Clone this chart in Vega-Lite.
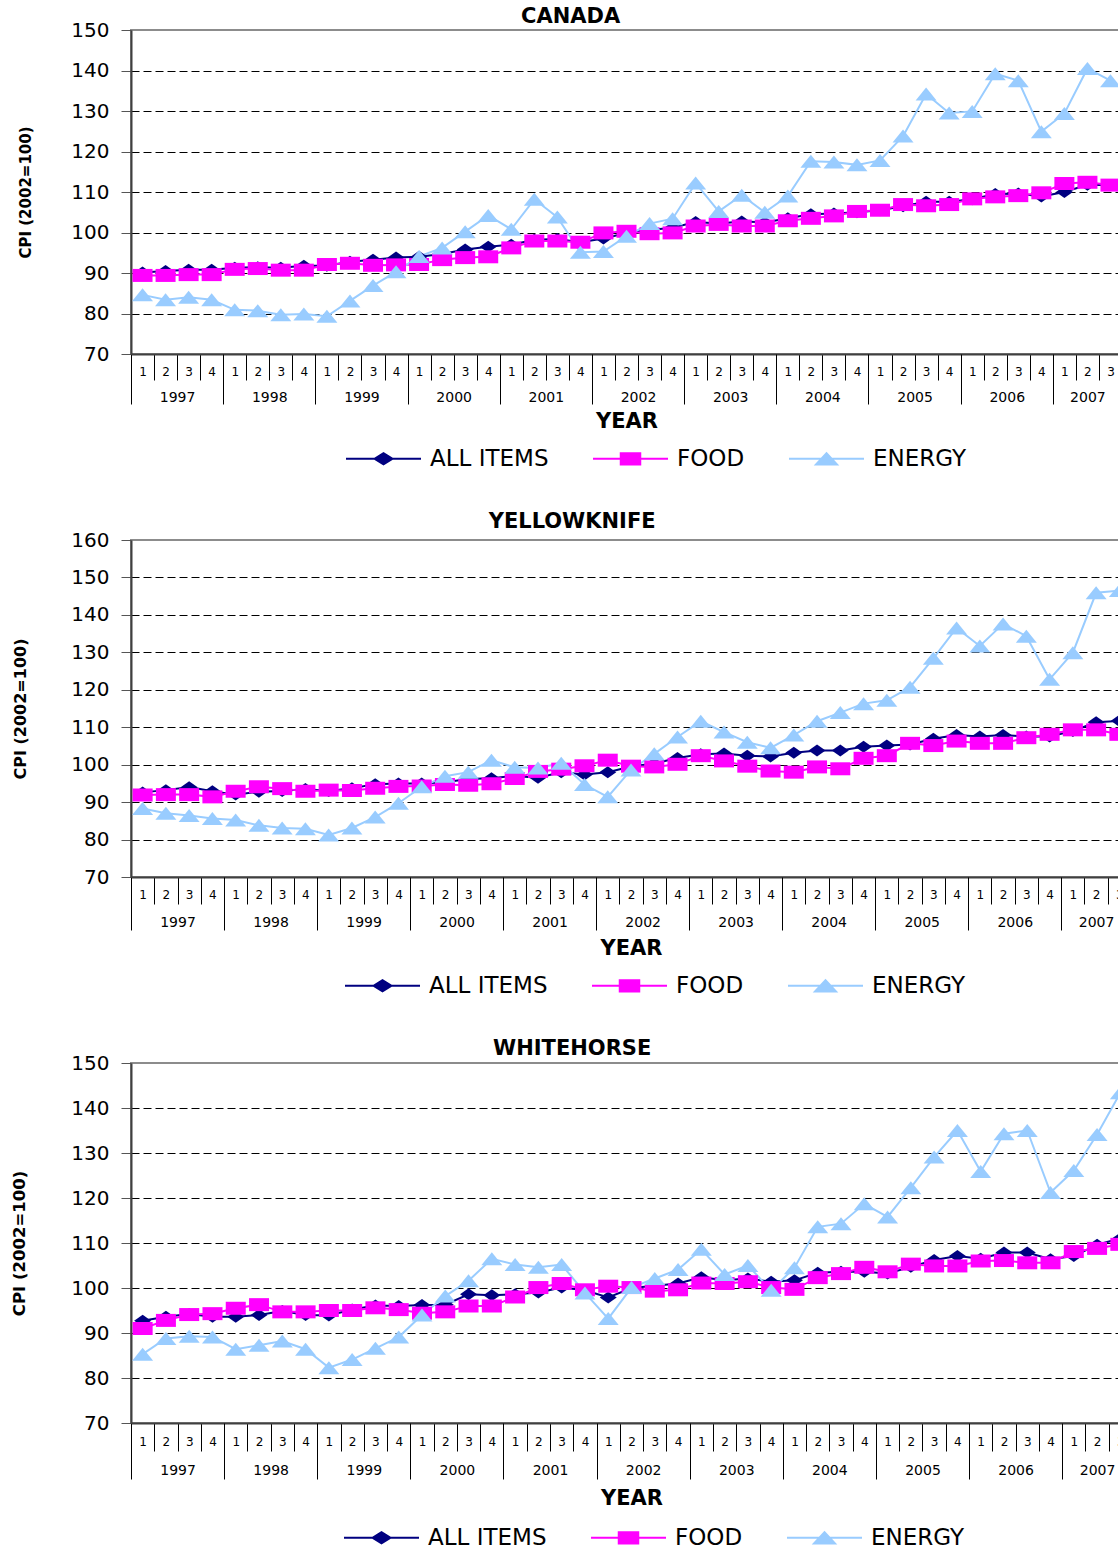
{
  "$schema": "https://vega.github.io/schema/vega-lite/v6.json",
  "padding": {"left": 10, "top": 5, "right": 0, "bottom": 0},
  "background": "white",
  "config": {
    "view": {"stroke": "#8c8c8c", "strokeWidth": 2},
    "axis": {"labelFont": "DejaVu Sans", "titleFont": "DejaVu Sans", "labelColor": "#000", "titleColor": "#000", "tickColor": "#000", "tickWidth": 1, "domainColor": "#404040", "domainWidth": 2, "labelFlush": false, "labelOverlap": false, "grid": false},
    "title": {"font": "DejaVu Sans", "fontSize": 21, "fontWeight": "bold", "color": "#000", "frame": "bounds", "anchor": "middle"},
    "legend": {"labelFont": "DejaVu Sans", "labelFontSize": 23, "labelColor": "#000", "labelOffset": 8, "columnPadding": 40, "padding": 0, "symbolSize": 5625, "symbolStrokeWidth": 2, "symbolOpacity": 1, "direction": "horizontal", "orient": "none", "labelLimit": 300}
  },
  "datasets": {
    "canada": [
      {"year":1997,"quarter":1,"series":"ALL ITEMS","value":90.1},{"year":1997,"quarter":2,"series":"ALL ITEMS","value":90.5},{"year":1997,"quarter":3,"series":"ALL ITEMS","value":90.8},{"year":1997,"quarter":4,"series":"ALL ITEMS","value":90.8},
      {"year":1998,"quarter":1,"series":"ALL ITEMS","value":91.3},{"year":1998,"quarter":2,"series":"ALL ITEMS","value":91.4},{"year":1998,"quarter":3,"series":"ALL ITEMS","value":91.3},{"year":1998,"quarter":4,"series":"ALL ITEMS","value":91.8},
      {"year":1999,"quarter":1,"series":"ALL ITEMS","value":91.8},{"year":1999,"quarter":2,"series":"ALL ITEMS","value":92.8},{"year":1999,"quarter":3,"series":"ALL ITEMS","value":93.3},{"year":1999,"quarter":4,"series":"ALL ITEMS","value":93.8},
      {"year":2000,"quarter":1,"series":"ALL ITEMS","value":94.0},{"year":2000,"quarter":2,"series":"ALL ITEMS","value":94.7},{"year":2000,"quarter":3,"series":"ALL ITEMS","value":95.8},{"year":2000,"quarter":4,"series":"ALL ITEMS","value":96.5},
      {"year":2001,"quarter":1,"series":"ALL ITEMS","value":97.0},{"year":2001,"quarter":2,"series":"ALL ITEMS","value":98.2},{"year":2001,"quarter":3,"series":"ALL ITEMS","value":98.4},{"year":2001,"quarter":4,"series":"ALL ITEMS","value":97.6},
      {"year":2002,"quarter":1,"series":"ALL ITEMS","value":98.5},{"year":2002,"quarter":2,"series":"ALL ITEMS","value":99.9},{"year":2002,"quarter":3,"series":"ALL ITEMS","value":100.6},{"year":2002,"quarter":4,"series":"ALL ITEMS","value":101.2},
      {"year":2003,"quarter":1,"series":"ALL ITEMS","value":102.6},{"year":2003,"quarter":2,"series":"ALL ITEMS","value":102.2},{"year":2003,"quarter":3,"series":"ALL ITEMS","value":102.7},{"year":2003,"quarter":4,"series":"ALL ITEMS","value":102.5},
      {"year":2004,"quarter":1,"series":"ALL ITEMS","value":103.5},{"year":2004,"quarter":2,"series":"ALL ITEMS","value":104.5},{"year":2004,"quarter":3,"series":"ALL ITEMS","value":104.7},{"year":2004,"quarter":4,"series":"ALL ITEMS","value":105.0},
      {"year":2005,"quarter":1,"series":"ALL ITEMS","value":105.5},{"year":2005,"quarter":2,"series":"ALL ITEMS","value":106.5},{"year":2005,"quarter":3,"series":"ALL ITEMS","value":107.6},{"year":2005,"quarter":4,"series":"ALL ITEMS","value":107.6},
      {"year":2006,"quarter":1,"series":"ALL ITEMS","value":108.2},{"year":2006,"quarter":2,"series":"ALL ITEMS","value":109.5},{"year":2006,"quarter":3,"series":"ALL ITEMS","value":109.6},{"year":2006,"quarter":4,"series":"ALL ITEMS","value":108.9},
      {"year":2007,"quarter":1,"series":"ALL ITEMS","value":110.0},{"year":2007,"quarter":2,"series":"ALL ITEMS","value":111.8},{"year":2007,"quarter":3,"series":"ALL ITEMS","value":111.7},
      {"year":1997,"quarter":1,"series":"FOOD","value":89.4},{"year":1997,"quarter":2,"series":"FOOD","value":89.4},{"year":1997,"quarter":3,"series":"FOOD","value":89.6},{"year":1997,"quarter":4,"series":"FOOD","value":89.6},
      {"year":1998,"quarter":1,"series":"FOOD","value":90.9},{"year":1998,"quarter":2,"series":"FOOD","value":91.1},{"year":1998,"quarter":3,"series":"FOOD","value":90.7},{"year":1998,"quarter":4,"series":"FOOD","value":90.7},
      {"year":1999,"quarter":1,"series":"FOOD","value":92.1},{"year":1999,"quarter":2,"series":"FOOD","value":92.4},{"year":1999,"quarter":3,"series":"FOOD","value":91.9},{"year":1999,"quarter":4,"series":"FOOD","value":92.0},
      {"year":2000,"quarter":1,"series":"FOOD","value":92.1},{"year":2000,"quarter":2,"series":"FOOD","value":93.3},{"year":2000,"quarter":3,"series":"FOOD","value":93.8},{"year":2000,"quarter":4,"series":"FOOD","value":94.0},
      {"year":2001,"quarter":1,"series":"FOOD","value":96.2},{"year":2001,"quarter":2,"series":"FOOD","value":97.9},{"year":2001,"quarter":3,"series":"FOOD","value":97.9},{"year":2001,"quarter":4,"series":"FOOD","value":97.6},
      {"year":2002,"quarter":1,"series":"FOOD","value":99.9},{"year":2002,"quarter":2,"series":"FOOD","value":100.3},{"year":2002,"quarter":3,"series":"FOOD","value":99.7},{"year":2002,"quarter":4,"series":"FOOD","value":99.9},
      {"year":2003,"quarter":1,"series":"FOOD","value":101.6},{"year":2003,"quarter":2,"series":"FOOD","value":102.0},{"year":2003,"quarter":3,"series":"FOOD","value":101.6},{"year":2003,"quarter":4,"series":"FOOD","value":101.6},
      {"year":2004,"quarter":1,"series":"FOOD","value":102.9},{"year":2004,"quarter":2,"series":"FOOD","value":103.5},{"year":2004,"quarter":3,"series":"FOOD","value":104.1},{"year":2004,"quarter":4,"series":"FOOD","value":105.2},
      {"year":2005,"quarter":1,"series":"FOOD","value":105.5},{"year":2005,"quarter":2,"series":"FOOD","value":106.9},{"year":2005,"quarter":3,"series":"FOOD","value":106.6},{"year":2005,"quarter":4,"series":"FOOD","value":106.9},
      {"year":2006,"quarter":1,"series":"FOOD","value":108.3},{"year":2006,"quarter":2,"series":"FOOD","value":108.8},{"year":2006,"quarter":3,"series":"FOOD","value":109.1},{"year":2006,"quarter":4,"series":"FOOD","value":109.8},
      {"year":2007,"quarter":1,"series":"FOOD","value":112.1},{"year":2007,"quarter":2,"series":"FOOD","value":112.4},{"year":2007,"quarter":3,"series":"FOOD","value":111.7},
      {"year":1997,"quarter":1,"series":"ENERGY","value":84.6},{"year":1997,"quarter":2,"series":"ENERGY","value":83.4},{"year":1997,"quarter":3,"series":"ENERGY","value":84.0},{"year":1997,"quarter":4,"series":"ENERGY","value":83.4},
      {"year":1998,"quarter":1,"series":"ENERGY","value":80.9},{"year":1998,"quarter":2,"series":"ENERGY","value":80.7},{"year":1998,"quarter":3,"series":"ENERGY","value":79.7},{"year":1998,"quarter":4,"series":"ENERGY","value":79.9},
      {"year":1999,"quarter":1,"series":"ENERGY","value":79.3},{"year":1999,"quarter":2,"series":"ENERGY","value":83.1},{"year":1999,"quarter":3,"series":"ENERGY","value":86.9},{"year":1999,"quarter":4,"series":"ENERGY","value":90.3},
      {"year":2000,"quarter":1,"series":"ENERGY","value":94.1},{"year":2000,"quarter":2,"series":"ENERGY","value":96.2},{"year":2000,"quarter":3,"series":"ENERGY","value":100.2},{"year":2000,"quarter":4,"series":"ENERGY","value":104.2},
      {"year":2001,"quarter":1,"series":"ENERGY","value":100.8},{"year":2001,"quarter":2,"series":"ENERGY","value":108.2},{"year":2001,"quarter":3,"series":"ENERGY","value":103.8},{"year":2001,"quarter":4,"series":"ENERGY","value":95.1},
      {"year":2002,"quarter":1,"series":"ENERGY","value":95.3},{"year":2002,"quarter":2,"series":"ENERGY","value":99.1},{"year":2002,"quarter":3,"series":"ENERGY","value":102.2},{"year":2002,"quarter":4,"series":"ENERGY","value":103.4},
      {"year":2003,"quarter":1,"series":"ENERGY","value":112.2},{"year":2003,"quarter":2,"series":"ENERGY","value":105.2},{"year":2003,"quarter":3,"series":"ENERGY","value":109.2},{"year":2003,"quarter":4,"series":"ENERGY","value":105.0},
      {"year":2004,"quarter":1,"series":"ENERGY","value":109.0},{"year":2004,"quarter":2,"series":"ENERGY","value":117.6},{"year":2004,"quarter":3,"series":"ENERGY","value":117.4},{"year":2004,"quarter":4,"series":"ENERGY","value":116.7},
      {"year":2005,"quarter":1,"series":"ENERGY","value":117.8},{"year":2005,"quarter":2,"series":"ENERGY","value":123.8},{"year":2005,"quarter":3,"series":"ENERGY","value":134.2},{"year":2005,"quarter":4,"series":"ENERGY","value":129.5},
      {"year":2006,"quarter":1,"series":"ENERGY","value":129.9},{"year":2006,"quarter":2,"series":"ENERGY","value":139.2},{"year":2006,"quarter":3,"series":"ENERGY","value":137.5},{"year":2006,"quarter":4,"series":"ENERGY","value":124.9},
      {"year":2007,"quarter":1,"series":"ENERGY","value":129.4},{"year":2007,"quarter":2,"series":"ENERGY","value":140.5},{"year":2007,"quarter":3,"series":"ENERGY","value":137.5}
    ],
    "yellowknife": [
      {"year":1997,"quarter":1,"series":"ALL ITEMS","value":92.6},{"year":1997,"quarter":2,"series":"ALL ITEMS","value":93.2},{"year":1997,"quarter":3,"series":"ALL ITEMS","value":94.0},{"year":1997,"quarter":4,"series":"ALL ITEMS","value":92.9},
      {"year":1998,"quarter":1,"series":"ALL ITEMS","value":92.0},{"year":1998,"quarter":2,"series":"ALL ITEMS","value":92.8},{"year":1998,"quarter":3,"series":"ALL ITEMS","value":93.0},{"year":1998,"quarter":4,"series":"ALL ITEMS","value":93.5},
      {"year":1999,"quarter":1,"series":"ALL ITEMS","value":93.0},{"year":1999,"quarter":2,"series":"ALL ITEMS","value":93.7},{"year":1999,"quarter":3,"series":"ALL ITEMS","value":94.8},{"year":1999,"quarter":4,"series":"ALL ITEMS","value":95.0},
      {"year":2000,"quarter":1,"series":"ALL ITEMS","value":95.0},{"year":2000,"quarter":2,"series":"ALL ITEMS","value":95.3},{"year":2000,"quarter":3,"series":"ALL ITEMS","value":96.2},{"year":2000,"quarter":4,"series":"ALL ITEMS","value":96.4},
      {"year":2001,"quarter":1,"series":"ALL ITEMS","value":97.0},{"year":2001,"quarter":2,"series":"ALL ITEMS","value":96.5},{"year":2001,"quarter":3,"series":"ALL ITEMS","value":98.0},{"year":2001,"quarter":4,"series":"ALL ITEMS","value":97.4},
      {"year":2002,"quarter":1,"series":"ALL ITEMS","value":98.0},{"year":2002,"quarter":2,"series":"ALL ITEMS","value":99.5},{"year":2002,"quarter":3,"series":"ALL ITEMS","value":100.3},{"year":2002,"quarter":4,"series":"ALL ITEMS","value":101.8},
      {"year":2003,"quarter":1,"series":"ALL ITEMS","value":102.8},{"year":2003,"quarter":2,"series":"ALL ITEMS","value":103.0},{"year":2003,"quarter":3,"series":"ALL ITEMS","value":102.4},{"year":2003,"quarter":4,"series":"ALL ITEMS","value":102.2},
      {"year":2004,"quarter":1,"series":"ALL ITEMS","value":103.2},{"year":2004,"quarter":2,"series":"ALL ITEMS","value":103.8},{"year":2004,"quarter":3,"series":"ALL ITEMS","value":103.8},{"year":2004,"quarter":4,"series":"ALL ITEMS","value":104.8},
      {"year":2005,"quarter":1,"series":"ALL ITEMS","value":105.1},{"year":2005,"quarter":2,"series":"ALL ITEMS","value":105.4},{"year":2005,"quarter":3,"series":"ALL ITEMS","value":106.9},{"year":2005,"quarter":4,"series":"ALL ITEMS","value":107.9},
      {"year":2006,"quarter":1,"series":"ALL ITEMS","value":107.5},{"year":2006,"quarter":2,"series":"ALL ITEMS","value":107.9},{"year":2006,"quarter":3,"series":"ALL ITEMS","value":107.5},{"year":2006,"quarter":4,"series":"ALL ITEMS","value":107.5},
      {"year":2007,"quarter":1,"series":"ALL ITEMS","value":109.0},{"year":2007,"quarter":2,"series":"ALL ITEMS","value":111.3},{"year":2007,"quarter":3,"series":"ALL ITEMS","value":111.7},
      {"year":1997,"quarter":1,"series":"FOOD","value":91.9},{"year":1997,"quarter":2,"series":"FOOD","value":92.0},{"year":1997,"quarter":3,"series":"FOOD","value":92.0},{"year":1997,"quarter":4,"series":"FOOD","value":91.4},
      {"year":1998,"quarter":1,"series":"FOOD","value":92.9},{"year":1998,"quarter":2,"series":"FOOD","value":94.1},{"year":1998,"quarter":3,"series":"FOOD","value":93.6},{"year":1998,"quarter":4,"series":"FOOD","value":92.9},
      {"year":1999,"quarter":1,"series":"FOOD","value":93.2},{"year":1999,"quarter":2,"series":"FOOD","value":93.1},{"year":1999,"quarter":3,"series":"FOOD","value":93.7},{"year":1999,"quarter":4,"series":"FOOD","value":94.2},
      {"year":2000,"quarter":1,"series":"FOOD","value":94.3},{"year":2000,"quarter":2,"series":"FOOD","value":94.7},{"year":2000,"quarter":3,"series":"FOOD","value":94.5},{"year":2000,"quarter":4,"series":"FOOD","value":94.9},
      {"year":2001,"quarter":1,"series":"FOOD","value":96.3},{"year":2001,"quarter":2,"series":"FOOD","value":98.2},{"year":2001,"quarter":3,"series":"FOOD","value":98.8},{"year":2001,"quarter":4,"series":"FOOD","value":99.7},
      {"year":2002,"quarter":1,"series":"FOOD","value":101.2},{"year":2002,"quarter":2,"series":"FOOD","value":99.6},{"year":2002,"quarter":3,"series":"FOOD","value":99.4},{"year":2002,"quarter":4,"series":"FOOD","value":100.1},
      {"year":2003,"quarter":1,"series":"FOOD","value":102.4},{"year":2003,"quarter":2,"series":"FOOD","value":101.0},{"year":2003,"quarter":3,"series":"FOOD","value":99.6},{"year":2003,"quarter":4,"series":"FOOD","value":98.3},
      {"year":2004,"quarter":1,"series":"FOOD","value":98.0},{"year":2004,"quarter":2,"series":"FOOD","value":99.4},{"year":2004,"quarter":3,"series":"FOOD","value":98.9},{"year":2004,"quarter":4,"series":"FOOD","value":101.7},
      {"year":2005,"quarter":1,"series":"FOOD","value":102.4},{"year":2005,"quarter":2,"series":"FOOD","value":105.7},{"year":2005,"quarter":3,"series":"FOOD","value":105.1},{"year":2005,"quarter":4,"series":"FOOD","value":106.3},
      {"year":2006,"quarter":1,"series":"FOOD","value":105.7},{"year":2006,"quarter":2,"series":"FOOD","value":105.7},{"year":2006,"quarter":3,"series":"FOOD","value":107.2},{"year":2006,"quarter":4,"series":"FOOD","value":108.1},
      {"year":2007,"quarter":1,"series":"FOOD","value":109.3},{"year":2007,"quarter":2,"series":"FOOD","value":109.3},{"year":2007,"quarter":3,"series":"FOOD","value":108.1},
      {"year":1997,"quarter":1,"series":"ENERGY","value":88.3},{"year":1997,"quarter":2,"series":"ENERGY","value":87.0},{"year":1997,"quarter":3,"series":"ENERGY","value":86.4},{"year":1997,"quarter":4,"series":"ENERGY","value":85.6},
      {"year":1998,"quarter":1,"series":"ENERGY","value":85.2},{"year":1998,"quarter":2,"series":"ENERGY","value":83.8},{"year":1998,"quarter":3,"series":"ENERGY","value":83.1},{"year":1998,"quarter":4,"series":"ENERGY","value":82.9},
      {"year":1999,"quarter":1,"series":"ENERGY","value":81.2},{"year":1999,"quarter":2,"series":"ENERGY","value":83.1},{"year":1999,"quarter":3,"series":"ENERGY","value":86.0},{"year":1999,"quarter":4,"series":"ENERGY","value":89.7},
      {"year":2000,"quarter":1,"series":"ENERGY","value":94.1},{"year":2000,"quarter":2,"series":"ENERGY","value":96.9},{"year":2000,"quarter":3,"series":"ENERGY","value":98.0},{"year":2000,"quarter":4,"series":"ENERGY","value":101.2},
      {"year":2001,"quarter":1,"series":"ENERGY","value":99.3},{"year":2001,"quarter":2,"series":"ENERGY","value":99.1},{"year":2001,"quarter":3,"series":"ENERGY","value":100.4},{"year":2001,"quarter":4,"series":"ENERGY","value":94.7},
      {"year":2002,"quarter":1,"series":"ENERGY","value":91.4},{"year":2002,"quarter":2,"series":"ENERGY","value":98.6},{"year":2002,"quarter":3,"series":"ENERGY","value":102.9},{"year":2002,"quarter":4,"series":"ENERGY","value":107.4},
      {"year":2003,"quarter":1,"series":"ENERGY","value":111.6},{"year":2003,"quarter":2,"series":"ENERGY","value":108.7},{"year":2003,"quarter":3,"series":"ENERGY","value":106.0},{"year":2003,"quarter":4,"series":"ENERGY","value":104.5},
      {"year":2004,"quarter":1,"series":"ENERGY","value":107.9},{"year":2004,"quarter":2,"series":"ENERGY","value":111.6},{"year":2004,"quarter":3,"series":"ENERGY","value":113.9},{"year":2004,"quarter":4,"series":"ENERGY","value":116.3},
      {"year":2005,"quarter":1,"series":"ENERGY","value":117.2},{"year":2005,"quarter":2,"series":"ENERGY","value":120.7},{"year":2005,"quarter":3,"series":"ENERGY","value":128.4},{"year":2005,"quarter":4,"series":"ENERGY","value":136.5},
      {"year":2006,"quarter":1,"series":"ENERGY","value":131.7},{"year":2006,"quarter":2,"series":"ENERGY","value":137.6},{"year":2006,"quarter":3,"series":"ENERGY","value":134.3},{"year":2006,"quarter":4,"series":"ENERGY","value":122.8},
      {"year":2007,"quarter":1,"series":"ENERGY","value":129.9},{"year":2007,"quarter":2,"series":"ENERGY","value":145.9},{"year":2007,"quarter":3,"series":"ENERGY","value":146.5}
    ],
    "whitehorse": [
      {"year":1997,"quarter":1,"series":"ALL ITEMS","value":92.7},{"year":1997,"quarter":2,"series":"ALL ITEMS","value":93.6},{"year":1997,"quarter":3,"series":"ALL ITEMS","value":94.2},{"year":1997,"quarter":4,"series":"ALL ITEMS","value":93.6},
      {"year":1998,"quarter":1,"series":"ALL ITEMS","value":93.6},{"year":1998,"quarter":2,"series":"ALL ITEMS","value":94.0},{"year":1998,"quarter":3,"series":"ALL ITEMS","value":94.9},{"year":1998,"quarter":4,"series":"ALL ITEMS","value":94.0},
      {"year":1999,"quarter":1,"series":"ALL ITEMS","value":93.9},{"year":1999,"quarter":2,"series":"ALL ITEMS","value":95.2},{"year":1999,"quarter":3,"series":"ALL ITEMS","value":96.1},{"year":1999,"quarter":4,"series":"ALL ITEMS","value":96.0},
      {"year":2000,"quarter":1,"series":"ALL ITEMS","value":96.2},{"year":2000,"quarter":2,"series":"ALL ITEMS","value":96.3},{"year":2000,"quarter":3,"series":"ALL ITEMS","value":98.6},{"year":2000,"quarter":4,"series":"ALL ITEMS","value":98.4},
      {"year":2001,"quarter":1,"series":"ALL ITEMS","value":98.6},{"year":2001,"quarter":2,"series":"ALL ITEMS","value":99.0},{"year":2001,"quarter":3,"series":"ALL ITEMS","value":100.1},{"year":2001,"quarter":4,"series":"ALL ITEMS","value":99.5},
      {"year":2002,"quarter":1,"series":"ALL ITEMS","value":97.9},{"year":2002,"quarter":2,"series":"ALL ITEMS","value":100.0},{"year":2002,"quarter":3,"series":"ALL ITEMS","value":100.5},{"year":2002,"quarter":4,"series":"ALL ITEMS","value":101.0},
      {"year":2003,"quarter":1,"series":"ALL ITEMS","value":102.4},{"year":2003,"quarter":2,"series":"ALL ITEMS","value":101.7},{"year":2003,"quarter":3,"series":"ALL ITEMS","value":102.1},{"year":2003,"quarter":4,"series":"ALL ITEMS","value":101.4},
      {"year":2004,"quarter":1,"series":"ALL ITEMS","value":101.7},{"year":2004,"quarter":2,"series":"ALL ITEMS","value":103.4},{"year":2004,"quarter":3,"series":"ALL ITEMS","value":103.6},{"year":2004,"quarter":4,"series":"ALL ITEMS","value":103.6},
      {"year":2005,"quarter":1,"series":"ALL ITEMS","value":103.2},{"year":2005,"quarter":2,"series":"ALL ITEMS","value":104.7},{"year":2005,"quarter":3,"series":"ALL ITEMS","value":106.2},{"year":2005,"quarter":4,"series":"ALL ITEMS","value":107.1},
      {"year":2006,"quarter":1,"series":"ALL ITEMS","value":106.5},{"year":2006,"quarter":2,"series":"ALL ITEMS","value":107.9},{"year":2006,"quarter":3,"series":"ALL ITEMS","value":107.9},{"year":2006,"quarter":4,"series":"ALL ITEMS","value":106.4},
      {"year":2007,"quarter":1,"series":"ALL ITEMS","value":107.1},{"year":2007,"quarter":2,"series":"ALL ITEMS","value":109.6},{"year":2007,"quarter":3,"series":"ALL ITEMS","value":111.0},
      {"year":1997,"quarter":1,"series":"FOOD","value":91.0},{"year":1997,"quarter":2,"series":"FOOD","value":92.8},{"year":1997,"quarter":3,"series":"FOOD","value":94.1},{"year":1997,"quarter":4,"series":"FOOD","value":94.3},
      {"year":1998,"quarter":1,"series":"FOOD","value":95.5},{"year":1998,"quarter":2,"series":"FOOD","value":96.3},{"year":1998,"quarter":3,"series":"FOOD","value":94.7},{"year":1998,"quarter":4,"series":"FOOD","value":94.7},
      {"year":1999,"quarter":1,"series":"FOOD","value":95.0},{"year":1999,"quarter":2,"series":"FOOD","value":95.0},{"year":1999,"quarter":3,"series":"FOOD","value":95.6},{"year":1999,"quarter":4,"series":"FOOD","value":95.2},
      {"year":2000,"quarter":1,"series":"FOOD","value":94.4},{"year":2000,"quarter":2,"series":"FOOD","value":94.7},{"year":2000,"quarter":3,"series":"FOOD","value":96.0},{"year":2000,"quarter":4,"series":"FOOD","value":96.0},
      {"year":2001,"quarter":1,"series":"FOOD","value":98.0},{"year":2001,"quarter":2,"series":"FOOD","value":100.1},{"year":2001,"quarter":3,"series":"FOOD","value":101.0},{"year":2001,"quarter":4,"series":"FOOD","value":99.6},
      {"year":2002,"quarter":1,"series":"FOOD","value":100.4},{"year":2002,"quarter":2,"series":"FOOD","value":100.1},{"year":2002,"quarter":3,"series":"FOOD","value":99.3},{"year":2002,"quarter":4,"series":"FOOD","value":99.6},
      {"year":2003,"quarter":1,"series":"FOOD","value":101.1},{"year":2003,"quarter":2,"series":"FOOD","value":101.0},{"year":2003,"quarter":3,"series":"FOOD","value":101.4},{"year":2003,"quarter":4,"series":"FOOD","value":100.1},
      {"year":2004,"quarter":1,"series":"FOOD","value":99.7},{"year":2004,"quarter":2,"series":"FOOD","value":102.3},{"year":2004,"quarter":3,"series":"FOOD","value":103.2},{"year":2004,"quarter":4,"series":"FOOD","value":104.6},
      {"year":2005,"quarter":1,"series":"FOOD","value":103.6},{"year":2005,"quarter":2,"series":"FOOD","value":105.3},{"year":2005,"quarter":3,"series":"FOOD","value":104.9},{"year":2005,"quarter":4,"series":"FOOD","value":104.9},
      {"year":2006,"quarter":1,"series":"FOOD","value":106.0},{"year":2006,"quarter":2,"series":"FOOD","value":106.1},{"year":2006,"quarter":3,"series":"FOOD","value":105.6},{"year":2006,"quarter":4,"series":"FOOD","value":105.6},
      {"year":2007,"quarter":1,"series":"FOOD","value":108.1},{"year":2007,"quarter":2,"series":"FOOD","value":108.8},{"year":2007,"quarter":3,"series":"FOOD","value":109.7},
      {"year":1997,"quarter":1,"series":"ENERGY","value":85.3},{"year":1997,"quarter":2,"series":"ENERGY","value":88.8},{"year":1997,"quarter":3,"series":"ENERGY","value":89.3},{"year":1997,"quarter":4,"series":"ENERGY","value":89.1},
      {"year":1998,"quarter":1,"series":"ENERGY","value":86.4},{"year":1998,"quarter":2,"series":"ENERGY","value":87.3},{"year":1998,"quarter":3,"series":"ENERGY","value":88.2},{"year":1998,"quarter":4,"series":"ENERGY","value":86.4},
      {"year":1999,"quarter":1,"series":"ENERGY","value":82.3},{"year":1999,"quarter":2,"series":"ENERGY","value":84.1},{"year":1999,"quarter":3,"series":"ENERGY","value":86.6},{"year":1999,"quarter":4,"series":"ENERGY","value":89.1},
      {"year":2000,"quarter":1,"series":"ENERGY","value":94.0},{"year":2000,"quarter":2,"series":"ENERGY","value":98.2},{"year":2000,"quarter":3,"series":"ENERGY","value":101.6},{"year":2000,"quarter":4,"series":"ENERGY","value":106.5},
      {"year":2001,"quarter":1,"series":"ENERGY","value":105.2},{"year":2001,"quarter":2,"series":"ENERGY","value":104.6},{"year":2001,"quarter":3,"series":"ENERGY","value":105.2},{"year":2001,"quarter":4,"series":"ENERGY","value":98.9},
      {"year":2002,"quarter":1,"series":"ENERGY","value":93.2},{"year":2002,"quarter":2,"series":"ENERGY","value":100.1},{"year":2002,"quarter":3,"series":"ENERGY","value":102.1},{"year":2002,"quarter":4,"series":"ENERGY","value":104.1},
      {"year":2003,"quarter":1,"series":"ENERGY","value":108.6},{"year":2003,"quarter":2,"series":"ENERGY","value":103.0},{"year":2003,"quarter":3,"series":"ENERGY","value":105.0},{"year":2003,"quarter":4,"series":"ENERGY","value":99.5},
      {"year":2004,"quarter":1,"series":"ENERGY","value":104.5},{"year":2004,"quarter":2,"series":"ENERGY","value":113.6},{"year":2004,"quarter":3,"series":"ENERGY","value":114.3},{"year":2004,"quarter":4,"series":"ENERGY","value":118.7},
      {"year":2005,"quarter":1,"series":"ENERGY","value":115.8},{"year":2005,"quarter":2,"series":"ENERGY","value":122.3},{"year":2005,"quarter":3,"series":"ENERGY","value":129.1},{"year":2005,"quarter":4,"series":"ENERGY","value":135.0},
      {"year":2006,"quarter":1,"series":"ENERGY","value":125.9},{"year":2006,"quarter":2,"series":"ENERGY","value":134.3},{"year":2006,"quarter":3,"series":"ENERGY","value":135.0},{"year":2006,"quarter":4,"series":"ENERGY","value":121.2},
      {"year":2007,"quarter":1,"series":"ENERGY","value":126.1},{"year":2007,"quarter":2,"series":"ENERGY","value":134.1},{"year":2007,"quarter":3,"series":"ENERGY","value":143.4}
    ]
  },
  "vconcat": [
    {
      "title": {"text": "CANADA", "offset": -7},
      "width": 991, "height": 324,
      "data": {"name": "canada"},
      "transform": [{"calculate": "datum.year + (datum.quarter - 0.5) / 4", "as": "t"}],
      "layer": [
        {
          "mark": {"type": "line", "strokeWidth": 2},
          "encoding": {
            "x": {"field": "t", "type": "quantitative", "scale": {"domain": [1997, 2007.75], "nice": false, "zero": false},
              "axis": {"orient": "bottom", "title": null, "labels": false, "ticks": true, "tickSize": 26, "domain": true,
                "values": [1997,1997.25,1997.5,1997.75,1998,1998.25,1998.5,1998.75,1999,1999.25,1999.5,1999.75,2000,2000.25,2000.5,2000.75,2001,2001.25,2001.5,2001.75,2002,2002.25,2002.5,2002.75,2003,2003.25,2003.5,2003.75,2004,2004.25,2004.5,2004.75,2005,2005.25,2005.5,2005.75,2006,2006.25,2006.5,2006.75,2007,2007.25,2007.5,2007.75]}},
            "y": {"field": "value", "type": "quantitative", "scale": {"domain": [70, 150], "nice": false, "zero": false},
              "axis": {"values": [70,80,90,100,110,120,130,140,150], "tickCount": 9, "title": "CPI (2002=100)", "titleFont": "DejaVu Sans", "titleFontSize": 15, "titleFontWeight": "bold", "titlePadding": 37, "labelFontSize": 20, "labelPadding": 12, "labelOverlap": false, "tickSize": 10, "tickColor": "#555", "grid": true, "gridColor": "#000", "gridDash": [8, 4], "gridWidth": 1, "gridOpacity": {"condition": {"test": "datum.value >= 150", "value": 0}, "value": 1}}},
            "color": {"field": "series", "type": "nominal", "scale": {"domain": ["ALL ITEMS", "FOOD", "ENERGY"], "range": ["#000080", "#FF00FF", "#99CCFF"]}, "legend": {"title": null, "legendX": 214, "legendY": 390}}
          }
        },
        {
          "transform": [{"filter": "datum.series === 'ALL ITEMS'"}],
          "mark": {"type": "point", "filled": true, "opacity": 1, "size": 400, "strokeWidth": 0, "shape": "M-0.85,0L0,-0.6L0.85,0L0,0.6Z"},
          "encoding": {
            "x": {"field": "t", "type": "quantitative", "scale": {"domain": [1997, 2007.75], "nice": false, "zero": false},
              "axis": {"orient": "bottom", "title": null, "ticks": false, "domain": false, "labelPadding": 12, "labelFontSize": 12,
                "labelExpr": "floor((datum.value - floor(datum.value)) * 4) + 1",
                "values": [1997.125,1997.375,1997.625,1997.875,1998.125,1998.375,1998.625,1998.875,1999.125,1999.375,1999.625,1999.875,2000.125,2000.375,2000.625,2000.875,2001.125,2001.375,2001.625,2001.875,2002.125,2002.375,2002.625,2002.875,2003.125,2003.375,2003.625,2003.875,2004.125,2004.375,2004.625,2004.875,2005.125,2005.375,2005.625,2005.875,2006.125,2006.375,2006.625,2006.875,2007.125,2007.375,2007.625]}},
            "y": {"field": "value", "type": "quantitative", "scale": {"domain": [70, 150], "nice": false, "zero": false},
              "axis": {"values": [70,80,90,100,110,120,130,140,150], "tickCount": 9, "title": "CPI (2002=100)", "titleFont": "DejaVu Sans", "titleFontSize": 15, "titleFontWeight": "bold", "titlePadding": 37, "labelFontSize": 20, "labelPadding": 12, "labelOverlap": false, "tickSize": 10, "tickColor": "#555", "grid": true, "gridColor": "#000", "gridDash": [8, 4], "gridWidth": 1, "gridOpacity": {"condition": {"test": "datum.value >= 150", "value": 0}, "value": 1}}},
            "color": {"field": "series", "type": "nominal", "scale": {"domain": ["ALL ITEMS", "FOOD", "ENERGY"], "range": ["#000080", "#FF00FF", "#99CCFF"]}, "legend": {"title": null, "legendX": 214, "legendY": 390}}
          }
        },
        {
          "transform": [{"filter": "datum.series === 'FOOD'"}],
          "mark": {"type": "point", "filled": true, "opacity": 1, "size": 400, "strokeWidth": 0, "shape": "M-1,-0.65H1V0.65H-1Z"},
          "encoding": {
            "x": {"field": "t", "type": "quantitative", "scale": {"domain": [1997, 2007.75], "nice": false, "zero": false},
              "axis": {"orient": "bottom", "title": null, "labels": false, "ticks": true, "tickSize": 50, "domain": false,
                "values": [1997,1998,1999,2000,2001,2002,2003,2004,2005,2006,2007,2007.75]}},
            "y": {"field": "value", "type": "quantitative", "scale": {"domain": [70, 150], "nice": false, "zero": false},
              "axis": {"values": [70,80,90,100,110,120,130,140,150], "tickCount": 9, "title": "CPI (2002=100)", "titleFont": "DejaVu Sans", "titleFontSize": 15, "titleFontWeight": "bold", "titlePadding": 37, "labelFontSize": 20, "labelPadding": 12, "labelOverlap": false, "tickSize": 10, "tickColor": "#555", "grid": true, "gridColor": "#000", "gridDash": [8, 4], "gridWidth": 1, "gridOpacity": {"condition": {"test": "datum.value >= 150", "value": 0}, "value": 1}}},
            "color": {"field": "series", "type": "nominal", "scale": {"domain": ["ALL ITEMS", "FOOD", "ENERGY"], "range": ["#000080", "#FF00FF", "#99CCFF"]}, "legend": {"title": null, "legendX": 214, "legendY": 390}}
          }
        },
        {
          "transform": [{"filter": "datum.series === 'ENERGY'"}],
          "mark": {"type": "point", "filled": true, "opacity": 1, "size": 400, "strokeWidth": 0, "shape": "M0,-0.65L1.05,0.65L-1.05,0.65Z"},
          "encoding": {
            "x": {"field": "t", "type": "quantitative", "scale": {"domain": [1997, 2007.75], "nice": false, "zero": false},
              "axis": {"orient": "bottom", "title": "YEAR", "titleFontSize": 21, "titleFontWeight": "bold", "titlePadding": 6, "ticks": false, "domain": false, "labelPadding": 36, "labelFontSize": 14,
                "labelExpr": "floor(datum.value)",
                "values": [1997.5,1998.5,1999.5,2000.5,2001.5,2002.5,2003.5,2004.5,2005.5,2006.5,2007.375]}},
            "y": {"field": "value", "type": "quantitative", "scale": {"domain": [70, 150], "nice": false, "zero": false},
              "axis": {"values": [70,80,90,100,110,120,130,140,150], "tickCount": 9, "title": "CPI (2002=100)", "titleFont": "DejaVu Sans", "titleFontSize": 15, "titleFontWeight": "bold", "titlePadding": 37, "labelFontSize": 20, "labelPadding": 12, "labelOverlap": false, "tickSize": 10, "tickColor": "#555", "grid": true, "gridColor": "#000", "gridDash": [8, 4], "gridWidth": 1, "gridOpacity": {"condition": {"test": "datum.value >= 150", "value": 0}, "value": 1}}},
            "color": {"field": "series", "type": "nominal", "scale": {"domain": ["ALL ITEMS", "FOOD", "ENERGY"], "range": ["#000080", "#FF00FF", "#99CCFF"]}, "legend": {"title": null, "legendX": 214, "legendY": 390}}
          }
        },
        {
          "mark": {"type": "point", "filled": true, "opacity": 0, "size": 10},
          "encoding": {
            "x": {"field": "t", "type": "quantitative", "scale": {"domain": [1997, 2007.75], "nice": false, "zero": false}, "axis": null},
            "y": {"field": "value", "type": "quantitative", "scale": {"domain": [70, 150], "nice": false, "zero": false},
              "axis": {"values": [70,80,90,100,110,120,130,140,150], "tickCount": 9, "title": "CPI (2002=100)", "titleFont": "DejaVu Sans", "titleFontSize": 15, "titleFontWeight": "bold", "titlePadding": 37, "labelFontSize": 20, "labelPadding": 12, "labelOverlap": false, "tickSize": 10, "tickColor": "#555", "grid": true, "gridColor": "#000", "gridDash": [8, 4], "gridWidth": 1, "gridOpacity": {"condition": {"test": "datum.value >= 150", "value": 0}, "value": 1}}},
            "color": {"field": "series", "type": "nominal", "scale": {"domain": ["ALL ITEMS", "FOOD", "ENERGY"], "range": ["#000080", "#FF00FF", "#99CCFF"]}, "legend": {"title": null, "legendX": 214, "legendY": 390}},
            "shape": {"field": "series", "type": "nominal", "scale": {"domain": ["ALL ITEMS", "FOOD", "ENERGY"], "range": ["M-1,0H1M-0.24,0L0,-0.15L0.24,0L0,0.15Z", "M-1,0H1M-0.26,-0.15H0.26V0.15H-0.26Z", "M-1,0H1M0,-0.15L0.28,0.15L-0.28,0.15Z"]}, "legend": {"title": null, "legendX": 214, "legendY": 390}}
          }
        }
      ],
      "resolve": {"axis": {"x": "independent"}}
    },
    {
      "title": {"text": "YELLOWKNIFE", "offset": -2},
      "width": 1000, "height": 337,
      "data": {"name": "yellowknife"},
      "transform": [{"calculate": "datum.year + (datum.quarter - 0.5) / 4", "as": "t"}],
      "layer": [
        {
          "mark": {"type": "line", "strokeWidth": 2},
          "encoding": {
            "x": {"field": "t", "type": "quantitative", "scale": {"domain": [1997, 2007.75], "nice": false, "zero": false},
              "axis": {"orient": "bottom", "title": null, "labels": false, "ticks": true, "tickSize": 27, "domain": true,
                "values": [1997,1997.25,1997.5,1997.75,1998,1998.25,1998.5,1998.75,1999,1999.25,1999.5,1999.75,2000,2000.25,2000.5,2000.75,2001,2001.25,2001.5,2001.75,2002,2002.25,2002.5,2002.75,2003,2003.25,2003.5,2003.75,2004,2004.25,2004.5,2004.75,2005,2005.25,2005.5,2005.75,2006,2006.25,2006.5,2006.75,2007,2007.25,2007.5,2007.75]}},
            "y": {"field": "value", "type": "quantitative", "scale": {"domain": [70, 160], "nice": false, "zero": false},
              "axis": {"values": [70,80,90,100,110,120,130,140,150,160], "tickCount": 10, "title": "CPI (2002=100)", "titleFont": "DejaVu Sans", "titleFontSize": 16, "titleFontWeight": "bold", "titlePadding": 42, "labelFontSize": 20, "labelPadding": 12, "labelOverlap": false, "tickSize": 10, "tickColor": "#555", "grid": true, "gridColor": "#000", "gridDash": [8, 4], "gridWidth": 1, "gridOpacity": {"condition": {"test": "datum.value >= 160", "value": 0}, "value": 1}}},
            "color": {"field": "series", "type": "nominal", "scale": {"domain": ["ALL ITEMS", "FOOD", "ENERGY"], "range": ["#000080", "#FF00FF", "#99CCFF"]}, "legend": {"title": null, "legendX": 213, "legendY": 407}}
          }
        },
        {
          "transform": [{"filter": "datum.series === 'ALL ITEMS'"}],
          "mark": {"type": "point", "filled": true, "opacity": 1, "size": 400, "strokeWidth": 0, "shape": "M-0.85,0L0,-0.6L0.85,0L0,0.6Z"},
          "encoding": {
            "x": {"field": "t", "type": "quantitative", "scale": {"domain": [1997, 2007.75], "nice": false, "zero": false},
              "axis": {"orient": "bottom", "title": null, "ticks": false, "domain": false, "labelPadding": 12, "labelFontSize": 12,
                "labelExpr": "floor((datum.value - floor(datum.value)) * 4) + 1",
                "values": [1997.125,1997.375,1997.625,1997.875,1998.125,1998.375,1998.625,1998.875,1999.125,1999.375,1999.625,1999.875,2000.125,2000.375,2000.625,2000.875,2001.125,2001.375,2001.625,2001.875,2002.125,2002.375,2002.625,2002.875,2003.125,2003.375,2003.625,2003.875,2004.125,2004.375,2004.625,2004.875,2005.125,2005.375,2005.625,2005.875,2006.125,2006.375,2006.625,2006.875,2007.125,2007.375,2007.625]}},
            "y": {"field": "value", "type": "quantitative", "scale": {"domain": [70, 160], "nice": false, "zero": false},
              "axis": {"values": [70,80,90,100,110,120,130,140,150,160], "tickCount": 10, "title": "CPI (2002=100)", "titleFont": "DejaVu Sans", "titleFontSize": 16, "titleFontWeight": "bold", "titlePadding": 42, "labelFontSize": 20, "labelPadding": 12, "labelOverlap": false, "tickSize": 10, "tickColor": "#555", "grid": true, "gridColor": "#000", "gridDash": [8, 4], "gridWidth": 1, "gridOpacity": {"condition": {"test": "datum.value >= 160", "value": 0}, "value": 1}}},
            "color": {"field": "series", "type": "nominal", "scale": {"domain": ["ALL ITEMS", "FOOD", "ENERGY"], "range": ["#000080", "#FF00FF", "#99CCFF"]}, "legend": {"title": null, "legendX": 213, "legendY": 407}}
          }
        },
        {
          "transform": [{"filter": "datum.series === 'FOOD'"}],
          "mark": {"type": "point", "filled": true, "opacity": 1, "size": 400, "strokeWidth": 0, "shape": "M-1,-0.65H1V0.65H-1Z"},
          "encoding": {
            "x": {"field": "t", "type": "quantitative", "scale": {"domain": [1997, 2007.75], "nice": false, "zero": false},
              "axis": {"orient": "bottom", "title": null, "labels": false, "ticks": true, "tickSize": 53, "domain": false,
                "values": [1997,1998,1999,2000,2001,2002,2003,2004,2005,2006,2007,2007.75]}},
            "y": {"field": "value", "type": "quantitative", "scale": {"domain": [70, 160], "nice": false, "zero": false},
              "axis": {"values": [70,80,90,100,110,120,130,140,150,160], "tickCount": 10, "title": "CPI (2002=100)", "titleFont": "DejaVu Sans", "titleFontSize": 16, "titleFontWeight": "bold", "titlePadding": 42, "labelFontSize": 20, "labelPadding": 12, "labelOverlap": false, "tickSize": 10, "tickColor": "#555", "grid": true, "gridColor": "#000", "gridDash": [8, 4], "gridWidth": 1, "gridOpacity": {"condition": {"test": "datum.value >= 160", "value": 0}, "value": 1}}},
            "color": {"field": "series", "type": "nominal", "scale": {"domain": ["ALL ITEMS", "FOOD", "ENERGY"], "range": ["#000080", "#FF00FF", "#99CCFF"]}, "legend": {"title": null, "legendX": 213, "legendY": 407}}
          }
        },
        {
          "transform": [{"filter": "datum.series === 'ENERGY'"}],
          "mark": {"type": "point", "filled": true, "opacity": 1, "size": 400, "strokeWidth": 0, "shape": "M0,-0.65L1.05,0.65L-1.05,0.65Z"},
          "encoding": {
            "x": {"field": "t", "type": "quantitative", "scale": {"domain": [1997, 2007.75], "nice": false, "zero": false},
              "axis": {"orient": "bottom", "title": "YEAR", "titleFontSize": 21, "titleFontWeight": "bold", "titlePadding": 8, "ticks": false, "domain": false, "labelPadding": 38, "labelFontSize": 14,
                "labelExpr": "floor(datum.value)",
                "values": [1997.5,1998.5,1999.5,2000.5,2001.5,2002.5,2003.5,2004.5,2005.5,2006.5,2007.375]}},
            "y": {"field": "value", "type": "quantitative", "scale": {"domain": [70, 160], "nice": false, "zero": false},
              "axis": {"values": [70,80,90,100,110,120,130,140,150,160], "tickCount": 10, "title": "CPI (2002=100)", "titleFont": "DejaVu Sans", "titleFontSize": 16, "titleFontWeight": "bold", "titlePadding": 42, "labelFontSize": 20, "labelPadding": 12, "labelOverlap": false, "tickSize": 10, "tickColor": "#555", "grid": true, "gridColor": "#000", "gridDash": [8, 4], "gridWidth": 1, "gridOpacity": {"condition": {"test": "datum.value >= 160", "value": 0}, "value": 1}}},
            "color": {"field": "series", "type": "nominal", "scale": {"domain": ["ALL ITEMS", "FOOD", "ENERGY"], "range": ["#000080", "#FF00FF", "#99CCFF"]}, "legend": {"title": null, "legendX": 213, "legendY": 407}}
          }
        },
        {
          "mark": {"type": "point", "filled": true, "opacity": 0, "size": 10},
          "encoding": {
            "x": {"field": "t", "type": "quantitative", "scale": {"domain": [1997, 2007.75], "nice": false, "zero": false}, "axis": null},
            "y": {"field": "value", "type": "quantitative", "scale": {"domain": [70, 160], "nice": false, "zero": false},
              "axis": {"values": [70,80,90,100,110,120,130,140,150,160], "tickCount": 10, "title": "CPI (2002=100)", "titleFont": "DejaVu Sans", "titleFontSize": 16, "titleFontWeight": "bold", "titlePadding": 42, "labelFontSize": 20, "labelPadding": 12, "labelOverlap": false, "tickSize": 10, "tickColor": "#555", "grid": true, "gridColor": "#000", "gridDash": [8, 4], "gridWidth": 1, "gridOpacity": {"condition": {"test": "datum.value >= 160", "value": 0}, "value": 1}}},
            "color": {"field": "series", "type": "nominal", "scale": {"domain": ["ALL ITEMS", "FOOD", "ENERGY"], "range": ["#000080", "#FF00FF", "#99CCFF"]}, "legend": {"title": null, "legendX": 213, "legendY": 407}},
            "shape": {"field": "series", "type": "nominal", "scale": {"domain": ["ALL ITEMS", "FOOD", "ENERGY"], "range": ["M-1,0H1M-0.24,0L0,-0.15L0.24,0L0,0.15Z", "M-1,0H1M-0.26,-0.15H0.26V0.15H-0.26Z", "M-1,0H1M0,-0.15L0.28,0.15L-0.28,0.15Z"]}, "legend": {"title": null, "legendX": 213, "legendY": 407}}
          }
        }
      ],
      "resolve": {"axis": {"x": "independent"}}
    },
    {
      "title": {"text": "WHITEHORSE", "offset": -6},
      "width": 1001, "height": 360,
      "data": {"name": "whitehorse"},
      "transform": [{"calculate": "datum.year + (datum.quarter - 0.5) / 4", "as": "t"}],
      "layer": [
        {
          "mark": {"type": "line", "strokeWidth": 2},
          "encoding": {
            "x": {"field": "t", "type": "quantitative", "scale": {"domain": [1997, 2007.75], "nice": false, "zero": false},
              "axis": {"orient": "bottom", "title": null, "labels": false, "ticks": true, "tickSize": 28, "domain": true,
                "values": [1997,1997.25,1997.5,1997.75,1998,1998.25,1998.5,1998.75,1999,1999.25,1999.5,1999.75,2000,2000.25,2000.5,2000.75,2001,2001.25,2001.5,2001.75,2002,2002.25,2002.5,2002.75,2003,2003.25,2003.5,2003.75,2004,2004.25,2004.5,2004.75,2005,2005.25,2005.5,2005.75,2006,2006.25,2006.5,2006.75,2007,2007.25,2007.5,2007.75]}},
            "y": {"field": "value", "type": "quantitative", "scale": {"domain": [70, 150], "nice": false, "zero": false},
              "axis": {"values": [70,80,90,100,110,120,130,140,150], "tickCount": 9, "title": "CPI (2002=100)", "titleFont": "DejaVu Sans", "titleFontSize": 16.5, "titleFontWeight": "bold", "titlePadding": 43, "labelFontSize": 20, "labelPadding": 12, "labelOverlap": false, "tickSize": 10, "tickColor": "#555", "grid": true, "gridColor": "#000", "gridDash": [8, 4], "gridWidth": 1, "gridOpacity": {"condition": {"test": "datum.value >= 150", "value": 0}, "value": 1}}},
            "color": {"field": "series", "type": "nominal", "scale": {"domain": ["ALL ITEMS", "FOOD", "ENERGY"], "range": ["#000080", "#FF00FF", "#99CCFF"]}, "legend": {"title": null, "legendX": 212, "legendY": 436}}
          }
        },
        {
          "transform": [{"filter": "datum.series === 'ALL ITEMS'"}],
          "mark": {"type": "point", "filled": true, "opacity": 1, "size": 400, "strokeWidth": 0, "shape": "M-0.85,0L0,-0.6L0.85,0L0,0.6Z"},
          "encoding": {
            "x": {"field": "t", "type": "quantitative", "scale": {"domain": [1997, 2007.75], "nice": false, "zero": false},
              "axis": {"orient": "bottom", "title": null, "ticks": false, "domain": false, "labelPadding": 13, "labelFontSize": 12,
                "labelExpr": "floor((datum.value - floor(datum.value)) * 4) + 1",
                "values": [1997.125,1997.375,1997.625,1997.875,1998.125,1998.375,1998.625,1998.875,1999.125,1999.375,1999.625,1999.875,2000.125,2000.375,2000.625,2000.875,2001.125,2001.375,2001.625,2001.875,2002.125,2002.375,2002.625,2002.875,2003.125,2003.375,2003.625,2003.875,2004.125,2004.375,2004.625,2004.875,2005.125,2005.375,2005.625,2005.875,2006.125,2006.375,2006.625,2006.875,2007.125,2007.375,2007.625]}},
            "y": {"field": "value", "type": "quantitative", "scale": {"domain": [70, 150], "nice": false, "zero": false},
              "axis": {"values": [70,80,90,100,110,120,130,140,150], "tickCount": 9, "title": "CPI (2002=100)", "titleFont": "DejaVu Sans", "titleFontSize": 16.5, "titleFontWeight": "bold", "titlePadding": 43, "labelFontSize": 20, "labelPadding": 12, "labelOverlap": false, "tickSize": 10, "tickColor": "#555", "grid": true, "gridColor": "#000", "gridDash": [8, 4], "gridWidth": 1, "gridOpacity": {"condition": {"test": "datum.value >= 150", "value": 0}, "value": 1}}},
            "color": {"field": "series", "type": "nominal", "scale": {"domain": ["ALL ITEMS", "FOOD", "ENERGY"], "range": ["#000080", "#FF00FF", "#99CCFF"]}, "legend": {"title": null, "legendX": 212, "legendY": 436}}
          }
        },
        {
          "transform": [{"filter": "datum.series === 'FOOD'"}],
          "mark": {"type": "point", "filled": true, "opacity": 1, "size": 400, "strokeWidth": 0, "shape": "M-1,-0.65H1V0.65H-1Z"},
          "encoding": {
            "x": {"field": "t", "type": "quantitative", "scale": {"domain": [1997, 2007.75], "nice": false, "zero": false},
              "axis": {"orient": "bottom", "title": null, "labels": false, "ticks": true, "tickSize": 56, "domain": false,
                "values": [1997,1998,1999,2000,2001,2002,2003,2004,2005,2006,2007,2007.75]}},
            "y": {"field": "value", "type": "quantitative", "scale": {"domain": [70, 150], "nice": false, "zero": false},
              "axis": {"values": [70,80,90,100,110,120,130,140,150], "tickCount": 9, "title": "CPI (2002=100)", "titleFont": "DejaVu Sans", "titleFontSize": 16.5, "titleFontWeight": "bold", "titlePadding": 43, "labelFontSize": 20, "labelPadding": 12, "labelOverlap": false, "tickSize": 10, "tickColor": "#555", "grid": true, "gridColor": "#000", "gridDash": [8, 4], "gridWidth": 1, "gridOpacity": {"condition": {"test": "datum.value >= 150", "value": 0}, "value": 1}}},
            "color": {"field": "series", "type": "nominal", "scale": {"domain": ["ALL ITEMS", "FOOD", "ENERGY"], "range": ["#000080", "#FF00FF", "#99CCFF"]}, "legend": {"title": null, "legendX": 212, "legendY": 436}}
          }
        },
        {
          "transform": [{"filter": "datum.series === 'ENERGY'"}],
          "mark": {"type": "point", "filled": true, "opacity": 1, "size": 400, "strokeWidth": 0, "shape": "M0,-0.65L1.05,0.65L-1.05,0.65Z"},
          "encoding": {
            "x": {"field": "t", "type": "quantitative", "scale": {"domain": [1997, 2007.75], "nice": false, "zero": false},
              "axis": {"orient": "bottom", "title": "YEAR", "titleFontSize": 21, "titleFontWeight": "bold", "titlePadding": 10, "ticks": false, "domain": false, "labelPadding": 40, "labelFontSize": 14,
                "labelExpr": "floor(datum.value)",
                "values": [1997.5,1998.5,1999.5,2000.5,2001.5,2002.5,2003.5,2004.5,2005.5,2006.5,2007.375]}},
            "y": {"field": "value", "type": "quantitative", "scale": {"domain": [70, 150], "nice": false, "zero": false},
              "axis": {"values": [70,80,90,100,110,120,130,140,150], "tickCount": 9, "title": "CPI (2002=100)", "titleFont": "DejaVu Sans", "titleFontSize": 16.5, "titleFontWeight": "bold", "titlePadding": 43, "labelFontSize": 20, "labelPadding": 12, "labelOverlap": false, "tickSize": 10, "tickColor": "#555", "grid": true, "gridColor": "#000", "gridDash": [8, 4], "gridWidth": 1, "gridOpacity": {"condition": {"test": "datum.value >= 150", "value": 0}, "value": 1}}},
            "color": {"field": "series", "type": "nominal", "scale": {"domain": ["ALL ITEMS", "FOOD", "ENERGY"], "range": ["#000080", "#FF00FF", "#99CCFF"]}, "legend": {"title": null, "legendX": 212, "legendY": 436}}
          }
        },
        {
          "mark": {"type": "point", "filled": true, "opacity": 0, "size": 10},
          "encoding": {
            "x": {"field": "t", "type": "quantitative", "scale": {"domain": [1997, 2007.75], "nice": false, "zero": false}, "axis": null},
            "y": {"field": "value", "type": "quantitative", "scale": {"domain": [70, 150], "nice": false, "zero": false},
              "axis": {"values": [70,80,90,100,110,120,130,140,150], "tickCount": 9, "title": "CPI (2002=100)", "titleFont": "DejaVu Sans", "titleFontSize": 16.5, "titleFontWeight": "bold", "titlePadding": 43, "labelFontSize": 20, "labelPadding": 12, "labelOverlap": false, "tickSize": 10, "tickColor": "#555", "grid": true, "gridColor": "#000", "gridDash": [8, 4], "gridWidth": 1, "gridOpacity": {"condition": {"test": "datum.value >= 150", "value": 0}, "value": 1}}},
            "color": {"field": "series", "type": "nominal", "scale": {"domain": ["ALL ITEMS", "FOOD", "ENERGY"], "range": ["#000080", "#FF00FF", "#99CCFF"]}, "legend": {"title": null, "legendX": 212, "legendY": 436}},
            "shape": {"field": "series", "type": "nominal", "scale": {"domain": ["ALL ITEMS", "FOOD", "ENERGY"], "range": ["M-1,0H1M-0.24,0L0,-0.15L0.24,0L0,0.15Z", "M-1,0H1M-0.26,-0.15H0.26V0.15H-0.26Z", "M-1,0H1M0,-0.15L0.28,0.15L-0.28,0.15Z"]}, "legend": {"title": null, "legendX": 212, "legendY": 436}}
          }
        }
      ],
      "resolve": {"axis": {"x": "independent"}}
    }
  ],
  "spacing": 186,
  "bounds": "flush",
  "resolve": {"scale": {"x": "independent", "y": "independent", "color": "independent", "shape": "independent"}, "legend": {"shape": "independent", "color": "independent"}}
}
